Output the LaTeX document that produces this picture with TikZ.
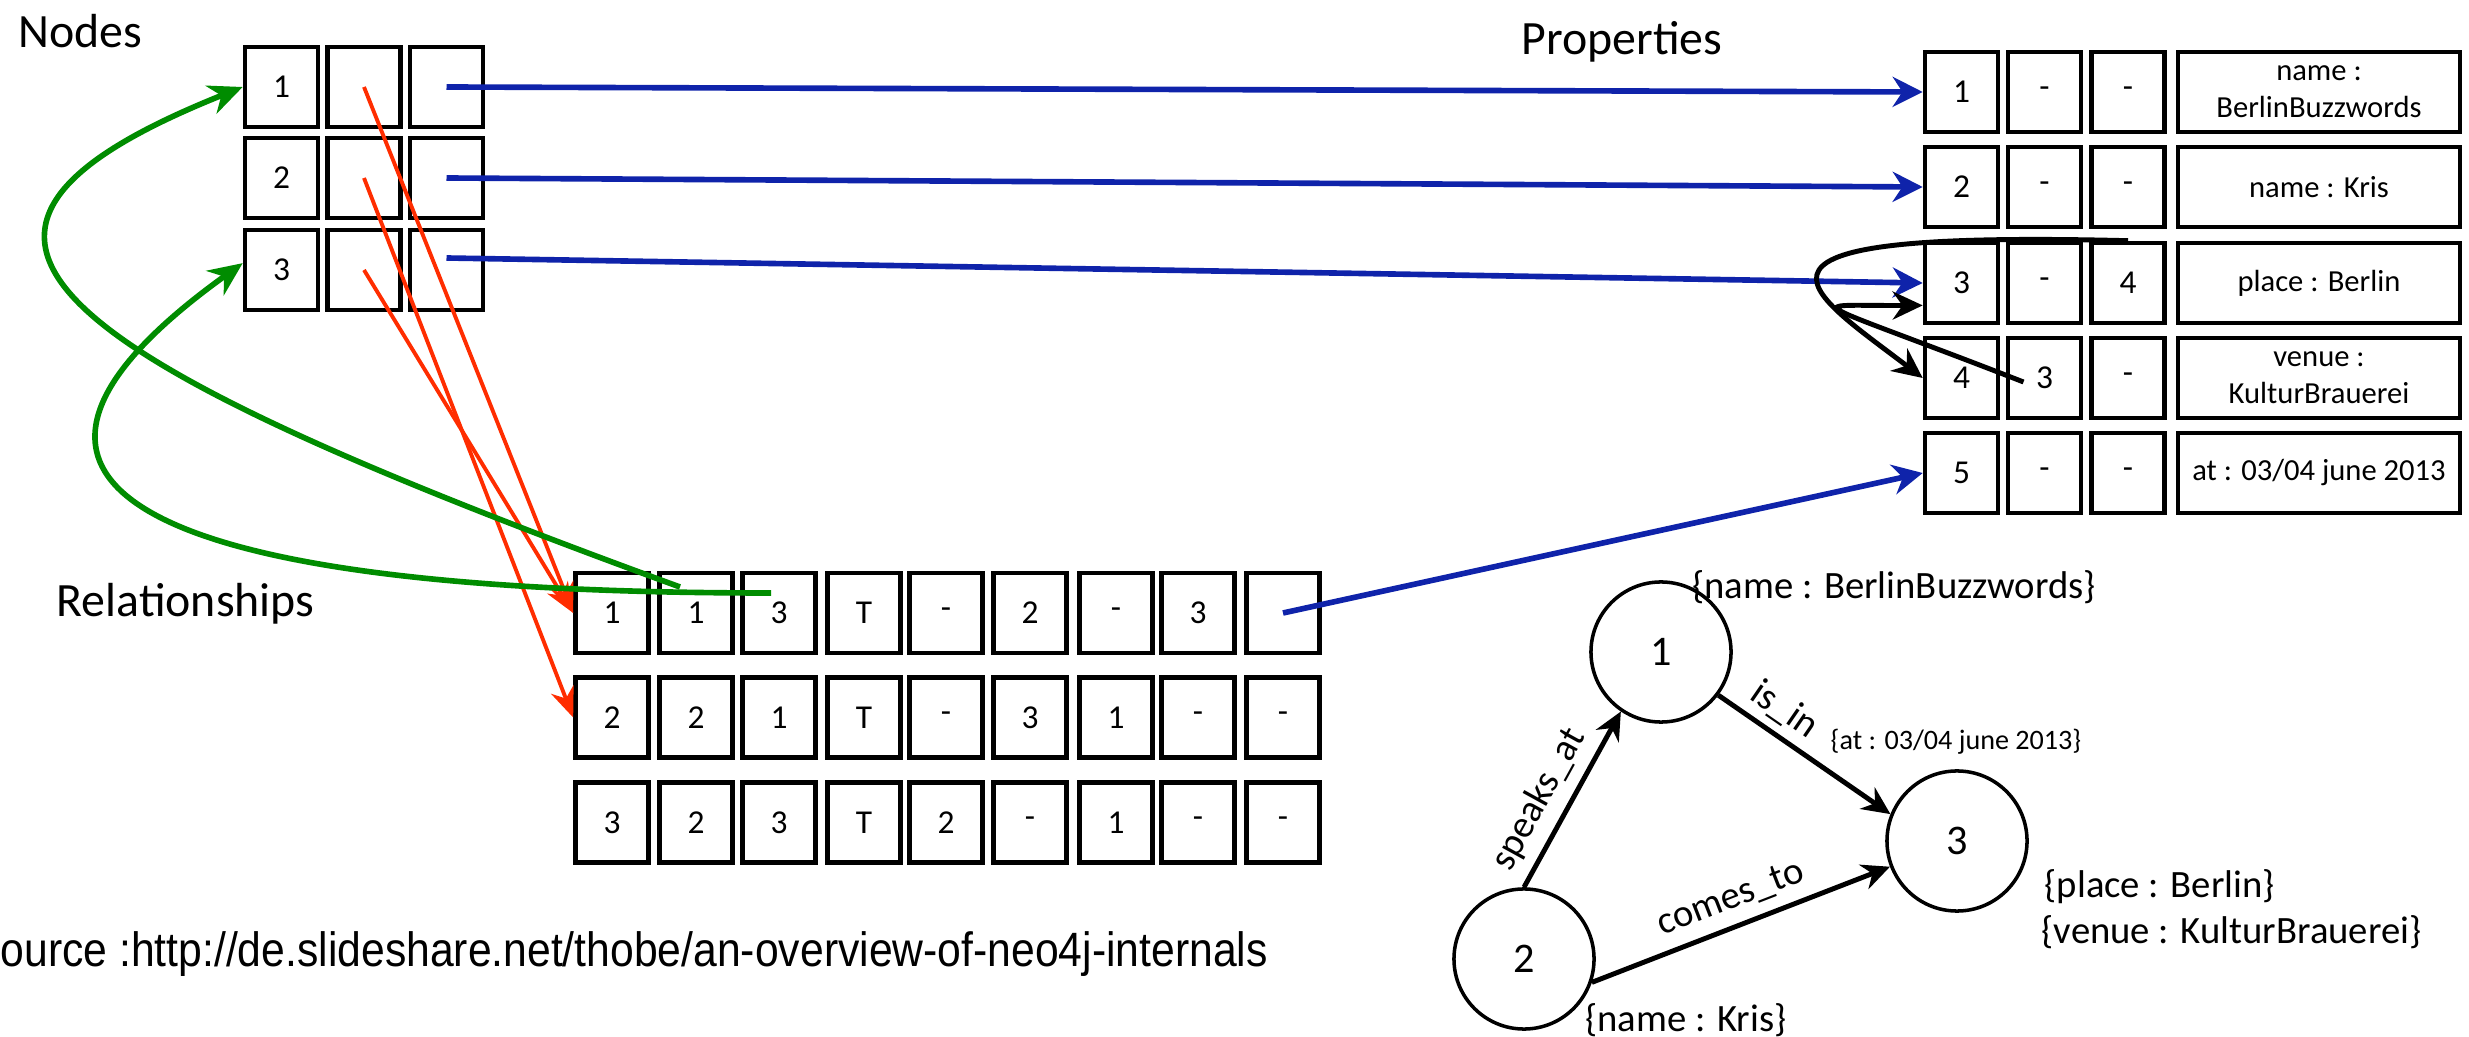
\documentclass[tikz,border=0pt]{standalone}
\usepackage{fontspec}
\setmainfont{Carlito}
\newfontfamily\srcfont[FakeStretch=0.886]{Liberation Sans}
\usetikzlibrary{arrows.meta,calc}
\definecolor{lnblue}{RGB}{15,35,170}
\definecolor{lngreen}{RGB}{0,140,0}
\definecolor{lnred}{RGB}{255,45,0}
\tikzset{bx/.style = {draw, line width=1.3pt, minimum width=7.3mm, minimum height=8mm, inner sep=0pt, font=\fontsize{9.5}{10}\selectfont},
         wb/.style = {draw, line width=1.3pt, minimum width=28.2mm, minimum height=8mm, inner sep=0pt, align=center, font=\fontsize{8.7}{10.5}\selectfont},
         gc/.style = {circle, draw, line width=1pt, minimum size=14mm, inner sep=0pt, font=\fontsize{12}{14}\selectfont},
         tt/.style = {anchor=base west, inner sep=0pt, font=\fontsize{13.6}{16}\selectfont},
         gl/.style = {inner sep=0pt, font=\fontsize{11}{13}\selectfont},
         bl/.style = {-{Stealth[length=3mm, width=3mm]}, lnblue, line width=1.6pt},
         rd/.style = {-{Stealth[length=3mm, width=2.4mm]}, lnred, line width=1.1pt},
         gr/.style = {-{Stealth[length=3.4mm, width=3mm]}, lngreen, line width=1.6pt},
         bk/.style = {-{Stealth[length=3mm, width=2.8mm]}, black, line width=1.4pt},
         ge/.style = {-{Stealth[length=2.8mm, width=2.6mm]}, black, line width=1.4pt}}

\begin{document}
\begin{tikzpicture}[x=0.01cm, y=-0.01cm]
    \useasboundingbox (0,0) rectangle (2469,1037);
    % titles
    \node[tt] (tn) at (18,48) {Nodes};
    \node[tt] (tp) at (1521,55) {Properties};
    \node[tt] (tr) at (56,617) {Relationships};
    % node store
    \node[bx] (n1i) at (281.5,87) {1}; \node[bx] (n1r) at (364,87) {}; \node[bx] (n1p) at (446.5,87) {};
    \node[bx] (n2i) at (281.5,178) {2}; \node[bx] (n2r) at (364,178) {}; \node[bx] (n2p) at (446.5,178) {};
    \node[bx] (n3i) at (281.5,270) {3}; \node[bx] (n3r) at (364,270) {}; \node[bx] (n3p) at (446.5,270) {};
    % property store
    \node[bx] (p1a) at (1961.5,92) {1}; \node[bx] (p1b) at (2044.5,92) {-}; \node[bx] (p1c) at (2128,92) {-};
    \node[wb] (p1d) at (2319,92) {name :\\BerlinBuzzwords};
    \node[bx] (p2a) at (1961.5,187) {2}; \node[bx] (p2b) at (2044.5,187) {-}; \node[bx] (p2c) at (2128,187) {-};
    \node[wb] (p2d) at (2319,187) {name : Kris};
    \node[bx] (p3a) at (1961.5,283) {3}; \node[bx] (p3b) at (2044.5,283) {-}; \node[bx] (p3c) at (2128,283) {4};
    \node[wb] (p3d) at (2319,283) {place : Berlin};
    \node[bx] (p4a) at (1961.5,378) {4}; \node[bx] (p4b) at (2044.5,378) {3}; \node[bx] (p4c) at (2128,378) {-};
    \node[wb] (p4d) at (2319,378) {venue :\\KulturBrauerei};
    \node[bx] (p5a) at (1961.5,473) {5}; \node[bx] (p5b) at (2044.5,473) {-}; \node[bx] (p5c) at (2128,473) {-};
    \node[wb] (p5d) at (2319,473) {at : 03/04 june 2013};
    % relationship store
    \node[bx] (r1a) at (612,613) {1}; \node[bx] (r1b) at (696,613) {1}; \node[bx] (r1c) at (779,613) {3};
    \node[bx] (r1d) at (864,613) {T}; \node[bx] (r1e) at (946,613) {-}; \node[bx] (r1f) at (1030,613) {2};
    \node[bx] (r1g) at (1116,613) {-}; \node[bx] (r1h) at (1198,613) {3}; \node[bx] (r1i) at (1283,613) {};
    \node[bx] (r2a) at (612,717.5) {2}; \node[bx] (r2b) at (696,717.5) {2}; \node[bx] (r2c) at (779,717.5) {1};
    \node[bx] (r2d) at (864,717.5) {T}; \node[bx] (r2e) at (946,717.5) {-}; \node[bx] (r2f) at (1030,717.5) {3};
    \node[bx] (r2g) at (1116,717.5) {1}; \node[bx] (r2h) at (1198,717.5) {-}; \node[bx] (r2i) at (1283,717.5) {-};
    \node[bx] (r3a) at (612,822.5) {3}; \node[bx] (r3b) at (696,822.5) {2}; \node[bx] (r3c) at (779,822.5) {3};
    \node[bx] (r3d) at (864,822.5) {T}; \node[bx] (r3e) at (946,822.5) {2}; \node[bx] (r3f) at (1030,822.5) {-};
    \node[bx] (r3g) at (1116,822.5) {1}; \node[bx] (r3h) at (1198,822.5) {-}; \node[bx] (r3i) at (1283,822.5) {-};
    % pointers
    \draw[bl] (n1p.center) -- (p1a.west);
    \draw[bl] (n2p.center) -- (p2a.west);
    \draw[bl] ([yshift=1.2mm]n3p.center) -- (p3a.west);
    \draw[bl] (r1i.center) -- (p5a.west);
    \draw[rd] (n1r.center) -- (r1a.west);
    \draw[rd] (n3r.center) -- (r1a.west);
    \draw[rd] (n2r.center) -- (r2a.west);
    \draw[gr] ($(r1b.center)+(-16,-26)$) .. controls (30,350) and (-120,232) .. (n1i.west);
    \draw[gr] ($(r1c.center)+(-8,-20)$) .. controls (170,593) and (-80,495) .. (n3i.170);
    \draw[bk] (p3c.north) .. controls (1700,230) and (1805,288) .. (p4a.west);
    \draw[bk] ($(p4b.center)+(-21,4)$) .. controls (1800,295) and (1800,306) .. (p3a.210);
    % graph
    \node[gc] (g1) at (1661,652) {1};
    \node[gc] (g2) at (1524,959) {2};
    \node[gc] (g3) at (1957,841) {3};
    \draw[ge] (g2.north) -- node[gl, sloped, above=3pt, pos=.42] {speaks\_at} (g1.236);
    \draw[ge] (g1.323) -- node[gl, sloped, above=2pt, pos=.3] {is\_in} (g3.158);
    \draw[ge] (g2.341) -- node[gl, sloped, above=3pt] {comes\_to} (g3.201.5);
    \node[gl] (t1) at (1894,587) {\{name : BerlinBuzzwords\}};
    \node[gl, font=\fontsize{8}{9}\selectfont] (t2) at (1956,742) {\{at : 03/04 june 2013\}};
    \node[gl, anchor=west] (t3) at (2044,887) {\{place : Berlin\}};
    \node[gl, anchor=west] (t4) at (2041,932) {\{venue : KulturBrauerei\}};
    \node[gl] (t5) at (1686,1020) {\{name : Kris\}};
    % source
    \node[anchor=base west, inner sep=0pt, font=\srcfont\fontsize{13.7}{16}\selectfont] (src) at (0,967) {ource :http://de.slideshare.net/thobe/an-overview-of-neo4j-internals};
\end{tikzpicture}
\end{document}
